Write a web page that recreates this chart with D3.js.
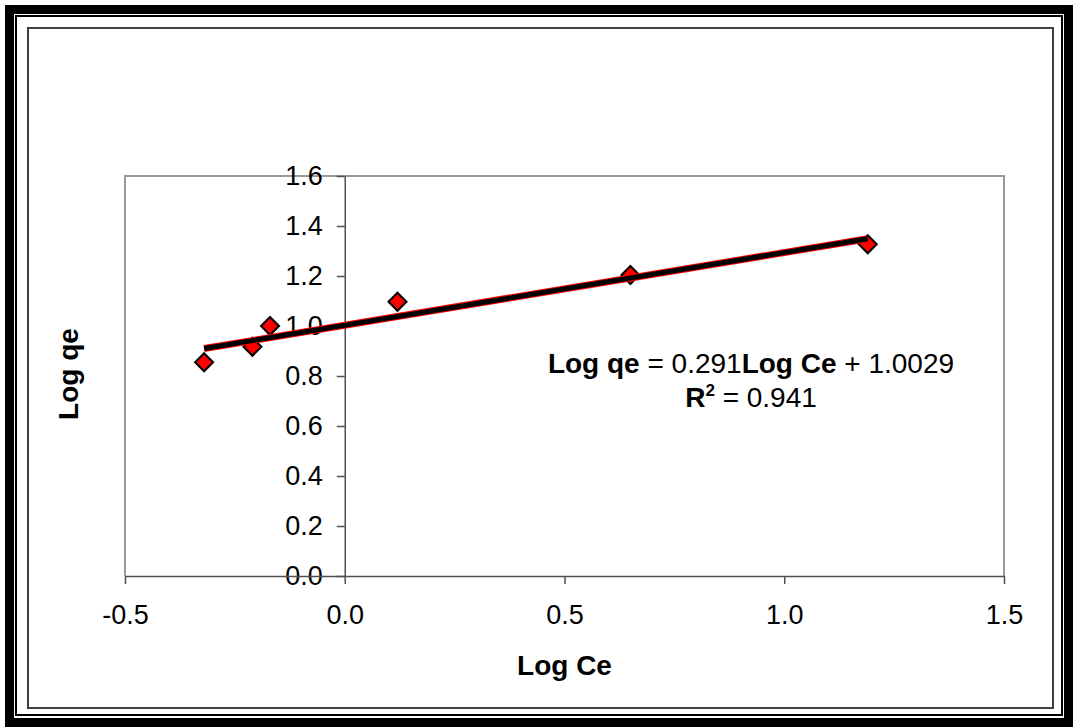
<!DOCTYPE html>
<html>
<head>
<meta charset="utf-8">
<script src="https://cdn.jsdelivr.net/npm/d3@7"></script>
<style>
  body { margin: 0; background: #fff; }
  text { font-family: "Liberation Sans", Arial, sans-serif; fill: #000; }
</style>
</head>
<body>
<div id="chart"></div>
<script>
// data
let logCe = [-0.32, -0.21, -0.17, 0.12, 0.65, 1.19];
let logQe = [0.855, 0.917, 1.0, 1.097, 1.204, 1.327];
let xTicks = [-0.5, 0.0, 0.5, 1.0, 1.5];
let yTicks = [0.0, 0.2, 0.4, 0.6, 0.8, 1.0, 1.2, 1.4, 1.6];
let slope = 0.291;
let intercept = 1.0029;
let rSquared = 0.941;

let svgWidth = 1073;
let svgHeight = 728;
let plot = { left: 125, right: 1004, top: 176, bottom: 576 };

let svg = d3.select("#chart")
            .append("svg")
            .attr("width", svgWidth)
            .attr("height", svgHeight);

// frame: thick + thin double border, then the chart area border
svg.append("rect")
   .attr("x", 9.5).attr("y", 9.5)
   .attr("width", 1059).attr("height", 713)
   .attr("fill", "none").attr("stroke", "#000").attr("stroke-width", 9);
svg.append("rect")
   .attr("x", 16).attr("y", 16)
   .attr("width", 1046).attr("height", 699)
   .attr("fill", "none").attr("stroke", "#000").attr("stroke-width", 2);
svg.append("rect")
   .attr("x", 28).attr("y", 28)
   .attr("width", 1025).attr("height", 680)
   .attr("fill", "none").attr("stroke", "#404040").attr("stroke-width", 2);

// scales
let xScale = d3.scaleLinear().domain([-0.5, 1.5]).range([plot.left, plot.right]);
let yScale = d3.scaleLinear().domain([0, 1.6]).range([plot.bottom, plot.top]);

// plot area border (gray)
svg.append("path")
   .attr("d", `M${plot.left},${plot.bottom}V${plot.top}H${plot.right}V${plot.bottom}`)
   .attr("fill", "none").attr("stroke", "#9a9a9a").attr("stroke-width", 2);

// axes
let leftAxis = d3.axisLeft(yScale)
    .tickValues(yTicks)
    .tickSize(8).tickSizeOuter(0).tickPadding(14)
    .tickFormat(d => d.toFixed(1));
let bottomAxis = d3.axisBottom(xScale)
    .tickValues(xTicks)
    .tickSize(8).tickSizeOuter(0).tickPadding(21)
    .tickFormat(d => d.toFixed(1));

let yAxisG = svg.append("g")
    .attr("transform", `translate(${xScale(0)}, 0)`)
    .call(leftAxis);
let xAxisG = svg.append("g")
    .attr("transform", `translate(0, ${yScale(0)})`)
    .call(bottomAxis);

[yAxisG, xAxisG].forEach(g => {
    g.selectAll("path, line").attr("stroke", "#505050").attr("stroke-width", 1.5);
    g.selectAll("text")
     .attr("fill", "#000")
     .style("font-family", '"Liberation Sans", Arial, sans-serif')
     .style("font-size", "27px");
});

// points (diamonds)
let pts = logCe.map((x, i) => ({ x: x, y: logQe[i] }));
svg.append("g").selectAll("path")
   .data(pts)
   .enter()
   .append("path")
   .attr("d", "M0,-9L9,0L0,9L-9,0Z")
   .attr("transform", d => `translate(${xScale(d.x)}, ${yScale(d.y)})`)
   .attr("fill", "#ff0000")
   .attr("stroke", "#000")
   .attr("stroke-width", 2);

// linear trendline: red edge under a thick black line
let xMin = d3.min(logCe), xMax = d3.max(logCe);
let trend = [xMin, xMax].map(x => ({ x: x, y: slope * x + intercept }));
let line = d3.line().x(d => xScale(d.x)).y(d => yScale(d.y));
svg.append("path").datum(trend)
   .attr("d", line).attr("stroke", "#ff0000").attr("stroke-width", 7).attr("fill", "none");
svg.append("path").datum(trend)
   .attr("d", line).attr("stroke", "#000").attr("stroke-width", 5).attr("fill", "none");

// axis titles
svg.append("text")
   .attr("x", (plot.left + plot.right) / 2).attr("y", 675)
   .attr("text-anchor", "middle")
   .attr("font-weight", "bold").style("font-size", "28px")
   .text("Log Ce");
svg.append("text")
   .attr("transform", "translate(78, 374) rotate(-90)")
   .attr("text-anchor", "middle")
   .attr("font-weight", "bold").style("font-size", "28px")
   .text("Log qe");

// equation label
let eq = svg.append("text")
   .attr("x", 751).attr("y", 373)
   .attr("text-anchor", "middle")
   .style("font-size", "28px");
eq.append("tspan").attr("font-weight", "bold").text("Log qe");
eq.append("tspan").text(" = " + slope + "");
eq.append("tspan").attr("font-weight", "bold").text("Log Ce");
eq.append("tspan").text(" + " + intercept);

let r2 = svg.append("text")
   .attr("x", 751).attr("y", 407)
   .attr("text-anchor", "middle")
   .style("font-size", "28px");
r2.append("tspan").attr("font-weight", "bold").text("R");
r2.append("tspan").attr("font-weight", "bold").attr("dy", -11).style("font-size", "17px").text("2");
r2.append("tspan").attr("dy", 11).text(" = " + rSquared);
</script>
</body>
</html>
